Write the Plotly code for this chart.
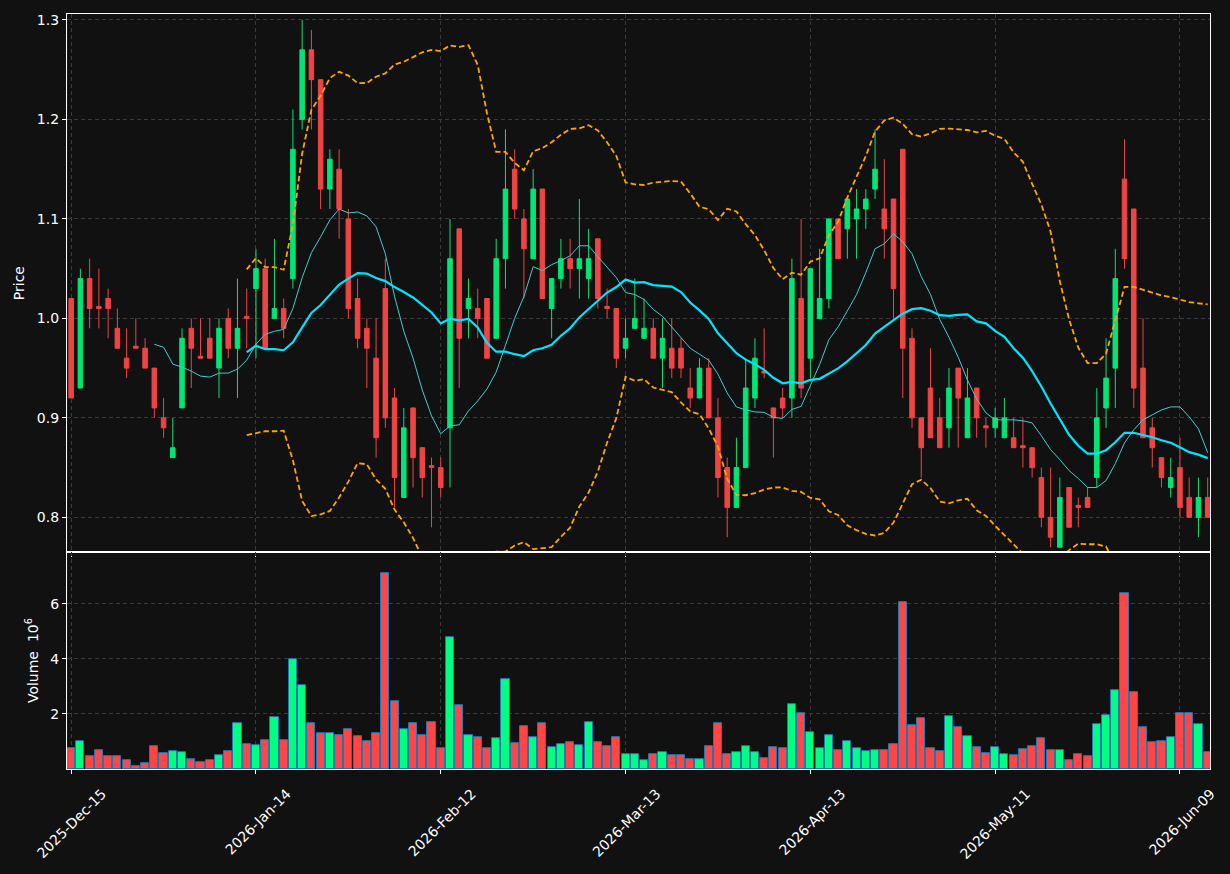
import pandas as pd
import plotly.graph_objects as go

# ---------------- data ----------------
holidays = ["2025-12-25", "2026-01-01", "2026-01-19", "2026-02-16", "2026-04-03", "2026-05-25"]
dates = pd.bdate_range("2025-12-15", periods=124, freq="C", holidays=holidays)

open_ = [1.02, 0.93, 1.04, 1.012, 1.02, 0.99, 0.96, 0.972, 0.97, 0.95,
         0.90, 0.86, 0.91, 0.99, 0.962, 0.98, 0.95, 1.00, 0.97, 1.002,
         1.03, 1.05, 1.00, 1.01, 1.04, 1.20, 1.27, 1.24, 1.13, 1.15,
         1.10, 1.02, 0.99, 0.96, 1.03, 0.92, 0.82, 0.91, 0.87, 0.852,
         0.85, 0.89, 1.09, 1.01, 1.01, 1.02, 0.98, 1.06, 1.15, 1.10,
         1.06, 1.13, 1.01, 1.04, 1.06, 1.05, 1.04, 1.08, 1.012, 1.01,
         0.97, 0.99, 0.98, 0.99, 0.96, 0.97, 0.97, 0.93, 0.92, 0.95,
         0.90, 0.85, 0.81, 0.85, 0.92, 0.947, 0.91, 0.92, 0.92, 1.02,
         0.96, 1.00, 1.02, 1.10, 1.09, 1.10, 1.11, 1.13, 1.11, 1.12,
         1.17, 0.98, 0.90, 0.93, 0.90, 0.89, 0.95, 0.88, 0.93, 0.892,
         0.89, 0.88, 0.88, 0.872, 0.87, 0.84, 0.80, 0.77, 0.83, 0.812,
         0.82, 0.84, 0.91, 0.95, 1.14, 1.11, 0.95, 0.89, 0.86, 0.83,
         0.85, 0.82, 0.80, 0.82]
high = [1.02, 1.05, 1.06, 1.05, 1.03, 1.01, 0.99, 1.00, 0.98, 0.95,
        0.92, 0.90, 0.99, 1.00, 1.00, 1.00, 1.00, 1.01, 1.04, 1.03,
        1.07, 1.06, 1.08, 1.02, 1.21, 1.30, 1.29, 1.24, 1.17, 1.17,
        1.11, 1.04, 1.00, 1.00, 1.06, 0.93, 0.91, 0.91, 0.87, 0.86,
        0.86, 1.10, 1.09, 1.04, 1.03, 1.02, 1.08, 1.19, 1.17, 1.11,
        1.15, 1.13, 1.04, 1.08, 1.08, 1.12, 1.09, 1.08, 1.03, 1.01,
        1.00, 1.04, 1.02, 1.00, 1.00, 1.00, 0.98, 0.95, 0.96, 0.96,
        0.92, 0.86, 0.88, 0.96, 0.98, 0.99, 0.91, 0.93, 1.06, 1.10,
        1.05, 1.07, 1.10, 1.10, 1.12, 1.13, 1.13, 1.19, 1.16, 1.12,
        1.17, 0.99, 0.90, 0.97, 0.92, 0.95, 0.95, 0.95, 0.93, 0.90,
        0.91, 0.92, 0.90, 0.90, 0.87, 0.85, 0.85, 0.84, 0.83, 0.82,
        0.83, 0.93, 0.98, 1.07, 1.18, 1.11, 1.00, 0.90, 0.86, 0.86,
        0.88, 0.84, 0.84, 0.84]
low = [0.92, 0.93, 0.99, 0.99, 0.98, 0.97, 0.94, 0.97, 0.95, 0.90,
       0.88, 0.86, 0.91, 0.93, 0.96, 0.96, 0.92, 0.96, 0.92, 0.97,
       0.96, 0.97, 1.00, 0.98, 1.03, 1.19, 1.19, 1.11, 1.11, 1.08,
       1.00, 0.97, 0.93, 0.86, 0.89, 0.81, 0.82, 0.83, 0.82, 0.79,
       0.82, 0.83, 0.93, 0.98, 0.98, 0.96, 0.98, 1.03, 1.10, 1.02,
       1.06, 1.02, 0.98, 1.03, 1.03, 1.02, 1.02, 1.01, 1.00, 0.95,
       0.96, 0.99, 0.98, 0.96, 0.93, 0.94, 0.94, 0.91, 0.92, 0.90,
       0.82, 0.78, 0.81, 0.85, 0.91, 0.94, 0.86, 0.90, 0.90, 0.92,
       0.94, 1.00, 1.01, 1.06, 1.06, 1.06, 1.09, 1.12, 1.06, 1.00,
       0.92, 0.89, 0.84, 0.88, 0.87, 0.87, 0.87, 0.88, 0.88, 0.87,
       0.88, 0.88, 0.87, 0.85, 0.84, 0.79, 0.77, 0.77, 0.79, 0.79,
       0.81, 0.83, 0.89, 0.91, 1.05, 0.91, 0.88, 0.85, 0.83, 0.82,
       0.80, 0.80, 0.78, 0.80]
close = [0.92, 1.04, 1.01, 1.01, 1.01, 0.97, 0.95, 0.97, 0.95, 0.91,
         0.89, 0.87, 0.98, 0.97, 0.96, 0.96, 0.99, 0.97, 0.99, 1.00,
         1.05, 0.97, 1.01, 0.99, 1.17, 1.27, 1.24, 1.13, 1.16, 1.11,
         1.01, 0.98, 0.97, 0.88, 0.90, 0.84, 0.89, 0.86, 0.84, 0.85,
         0.83, 1.06, 0.98, 1.02, 1.00, 0.96, 1.06, 1.13, 1.11, 1.07,
         1.13, 1.02, 1.04, 1.06, 1.05, 1.06, 1.06, 1.02, 1.01, 0.96,
         0.98, 1.00, 0.99, 0.96, 0.98, 0.95, 0.95, 0.92, 0.95, 0.90,
         0.84, 0.81, 0.85, 0.93, 0.96, 0.945, 0.90, 0.91, 1.04, 0.93,
         1.05, 1.02, 1.10, 1.06, 1.12, 1.11, 1.12, 1.15, 1.09, 1.03,
         0.97, 0.90, 0.87, 0.88, 0.87, 0.93, 0.92, 0.92, 0.90, 0.89,
         0.90, 0.90, 0.87, 0.87, 0.85, 0.80, 0.78, 0.82, 0.79, 0.81,
         0.81, 0.90, 0.94, 1.04, 1.06, 0.93, 0.88, 0.87, 0.84, 0.84,
         0.81, 0.80, 0.82, 0.80]
volume_m = [0.76, 1.01, 0.47, 0.69, 0.47, 0.47, 0.33, 0.11, 0.22, 0.83,
            0.58, 0.65, 0.61, 0.36, 0.25, 0.33, 0.51, 0.65, 1.66, 0.90,
            0.87, 1.05, 1.88, 1.05, 3.98, 3.04, 1.66, 1.30, 1.30, 1.23,
            1.45, 1.19, 1.01, 1.30, 7.12, 2.46, 1.45, 1.66, 1.23, 1.70,
            0.76, 4.77, 2.31, 1.23, 1.16, 0.76, 1.12, 3.25, 0.94, 1.55,
            1.16, 1.66, 0.80, 0.90, 0.98, 0.87, 1.70, 0.98, 0.83, 1.16,
            0.54, 0.54, 0.33, 0.54, 0.61, 0.51, 0.51, 0.36, 0.36, 0.83,
            1.66, 0.54, 0.61, 0.83, 0.61, 0.40, 0.80, 0.76, 2.35, 2.02,
            1.34, 0.76, 1.23, 0.69, 1.01, 0.76, 0.65, 0.69, 0.69, 0.90,
            6.07, 1.59, 1.84, 0.76, 0.65, 1.92, 1.52, 1.19, 0.80, 0.58,
            0.80, 0.54, 0.51, 0.72, 0.83, 1.12, 0.69, 0.69, 0.33, 0.54,
            0.47, 1.63, 1.95, 2.86, 6.40, 2.78, 1.52, 0.98, 1.01, 1.16,
            2.02, 2.02, 1.63, 0.61]

tick_idx = [0, 20, 40, 60, 80, 100, 120]

# ---------------- derived ----------------
idx = list(range(len(dates)))
cs = pd.Series(close)
ma10 = cs.rolling(10).mean()
ma20 = cs.rolling(20).mean()
sd20 = cs.rolling(20).std(ddof=0)
bb_up = ma20 + 2 * sd20
bb_lo = ma20 - 2 * sd20
tick_text = [dates[i].strftime("%Y-%b-%d") for i in tick_idx]

UP_C, DN_C = "#00e676", "#f04444"
UPV_C, DNV_C = "#00ff80", "#ff4646"
vol_colors = [UPV_C if c > o else DNV_C for o, c in zip(open_, close)]

BG = "#111111"
GRID = "#3a3a3a"
FONT = dict(family="DejaVu Sans", size=14, color="#ffffff")

fig = go.Figure()
fig.add_trace(go.Candlestick(
    x=idx, open=open_, high=high, low=low, close=close,
    increasing=dict(line=dict(color=UP_C, width=1), fillcolor=UP_C),
    decreasing=dict(line=dict(color=DN_C, width=1), fillcolor=DN_C),
    whiskerwidth=0, xaxis="x", yaxis="y", showlegend=False, hoverinfo="skip"))
fig.add_trace(go.Scatter(x=idx, y=bb_up, mode="lines", xaxis="x", yaxis="y",
                         line=dict(color="#ffa500", width=1.8, dash="5.5px,3px"), showlegend=False))
fig.add_trace(go.Scatter(x=idx, y=bb_lo, mode="lines", xaxis="x", yaxis="y",
                         line=dict(color="#ffa500", width=1.8, dash="5.5px,3px"), showlegend=False))
fig.add_trace(go.Scatter(x=idx, y=ma10, mode="lines", xaxis="x", yaxis="y",
                         line=dict(color="#3fcfcf", width=1), showlegend=False))
fig.add_trace(go.Scatter(x=idx, y=ma20, mode="lines", xaxis="x", yaxis="y",
                         line=dict(color="#00e5ff", width=2.2), showlegend=False))
fig.add_trace(go.Bar(x=idx, y=volume_m, xaxis="x2", yaxis="y2", width=0.88,
                     marker=dict(color=vol_colors, line=dict(color="#1f77b4", width=1)),
                     showlegend=False))

xr = [-0.45, 123.25]
axis_common = dict(showline=True, linecolor="#ffffff", linewidth=1.2, mirror=True,
                   ticks="outside", tickcolor="#ffffff", ticklen=4, tickwidth=1,
                   showgrid=True, gridcolor=GRID, griddash="4px,3px", gridwidth=1,
                   zeroline=False, tickfont=FONT)

vol_frac = 218 / 759
fig.update_layout(
    width=1230, height=874,
    paper_bgcolor=BG, plot_bgcolor=BG,
    margin=dict(l=67, r=17, t=12, b=103),
    font=FONT, bargap=0, showlegend=False,
    xaxis=dict(domain=[0, 1], anchor="y", range=xr, tickvals=tick_idx, ticktext=tick_text,
               showticklabels=False, rangeslider=dict(visible=False), matches="x2", **axis_common),
    yaxis=dict(domain=[vol_frac, 1], anchor="x", range=[0.765, 1.306],
               tickvals=[0.8, 0.9, 1.0, 1.1, 1.2, 1.3], tickformat=".1f",
               title=dict(text="Price", font=FONT, standoff=8), **axis_common),
    xaxis2=dict(domain=[0, 1], anchor="y2", range=xr, tickvals=tick_idx, ticktext=tick_text,
                tickangle=-45, ticklabelshift=31, ticklabelstandoff=6,
                ticklabeloverflow="allow", **axis_common),
    yaxis2=dict(domain=[0, vol_frac], anchor="x2", range=[0, 7.87], tickvals=[2, 4, 6],
                title=dict(text="Volume\u00a0\u00a010<sup>6</sup>", font=FONT, standoff=8),
                **axis_common),
)

fig.write_html("out.html")
